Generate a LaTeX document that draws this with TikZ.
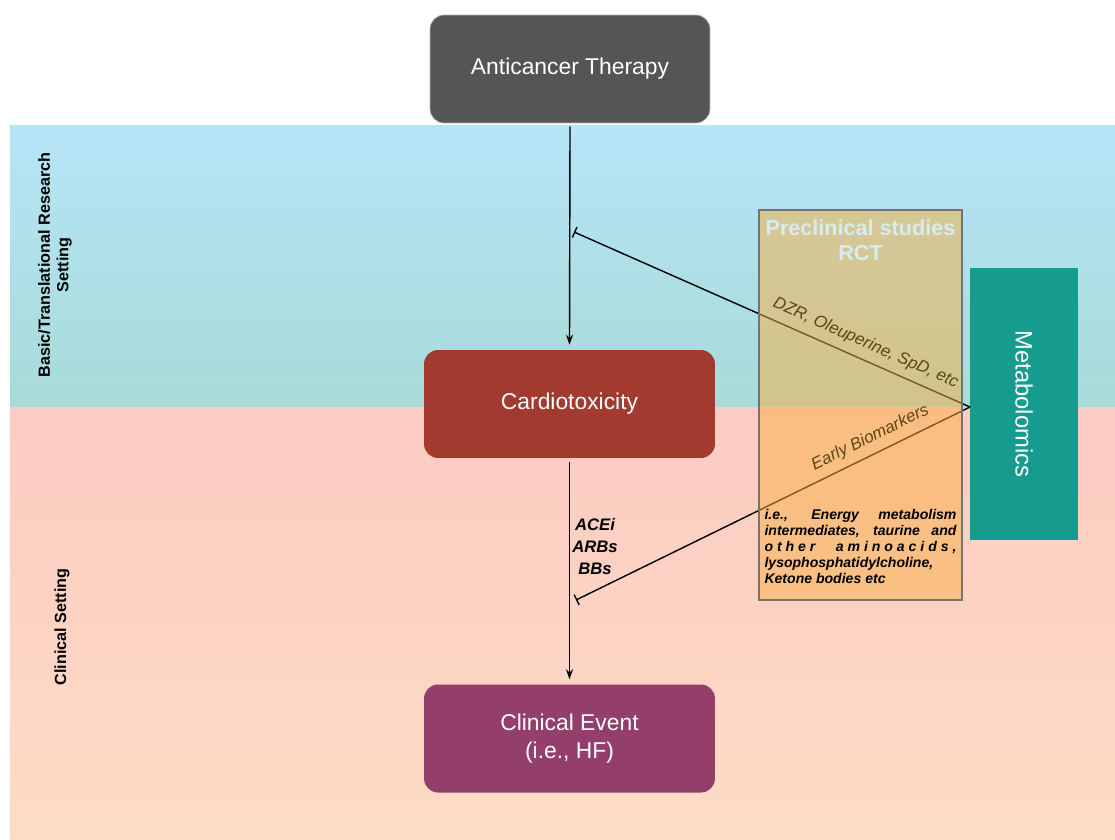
\documentclass[tikz,border=0pt]{standalone}
\usepackage{fontspec}
\setmainfont{Liberation Sans}
\usetikzlibrary{arrows.meta}

\definecolor{bandtop}{RGB}{183,228,247}
\definecolor{bandmid}{RGB}{167,219,216}
\definecolor{pinktop}{RGB}{252,203,195}
\definecolor{pinkbot}{RGB}{253,220,196}
\definecolor{therapygray}{RGB}{85,85,85}
\definecolor{cardiored}{RGB}{163,58,48}
\definecolor{eventplum}{RGB}{148,62,108}
\definecolor{metabteal}{RGB}{22,155,143}
\definecolor{preorange}{RGB}{250,175,66}
\definecolor{pretitle}{RGB}{216,236,240}
\definecolor{labelbrown}{RGB}{92,70,20}

\tikzset{
  stagebox/.style={rounded corners=0.28cm, inner sep=0pt, text=white,
    minimum height=2.16cm, align=center, font=\fontsize{13}{15.5}\selectfont},
  sidelabel/.style={rotate=90, align=center, font=\bfseries\fontsize{9.2}{10.5}\selectfont},
  drug/.style={font=\bfseries\itshape\fontsize{9.5}{11.5}\selectfont},
  slantlabel/.style={sloped, anchor=south, inner sep=4.5pt, text=labelbrown,
    font=\itshape\fontsize{9.6}{11}\selectfont},
  flow/.style={-{Stealth[length=5.7pt,width=4pt]}, line width=0.8pt},
  inhibit/.style={{Bar[width=6.5pt]}-, line width=0.8pt}
}

\begin{document}
\begin{tikzpicture}[x=0.02cm, y=-0.02cm]
  \useasboundingbox (0,0) rectangle (1115,839);
  % settings bands
  \shade[top color=bandtop, bottom color=bandmid] (10,125) rectangle (1115,407);
  \shade[top color=pinktop, bottom color=pinkbot] (10,407) rectangle (1115,839);

  \node[sidelabel] (basic) at (55,265) {Basic/Translational Research\\Setting};
  \node[sidelabel] (clin) at (62,627) {Clinical Setting};

  % main chain
  \node[stagebox, fill=therapygray, draw=gray!60, minimum width=5.6cm] (ther) at (570,69) {Anticancer Therapy};
  \node[stagebox, fill=cardiored, minimum width=5.82cm] (cardio) at (569.5,404) {Cardiotoxicity};
  \node[stagebox, fill=eventplum, minimum width=5.82cm] (event) at (569.5,738.5) {Clinical Event\\(i.e., HF)};
  \node[fill=metabteal, inner sep=0pt, minimum width=2.16cm, minimum height=5.44cm,
    text=white, font=\fontsize{13.5}{16}\selectfont] (metab) at (1024,404)
    {\rotatebox{-90}{Metabolomics}};

  \draw[flow] ([yshift=-1.7pt]ther.south) -- ([yshift=2.8pt]cardio.north);
  \draw[flow] ([yshift=-2.3pt]cardio.south) -- ([yshift=2.8pt]event.north);

  \node[drug] (acei) at (595,525) {ACEi};
  \node[drug] (arbs) at (595,547) {ARBs};
  \node[drug] (bbs) at (595,569) {BBs};

  % metabolomics feedback
  \coordinate (hitA) at (574,232);
  \coordinate (hitB) at (576,600);
  \coordinate (meet) at (970,407);
  \draw[inhibit] (hitA) -- (meet);
  \draw[inhibit] (hitB) -- (meet);

  \node[draw=gray!90!black, line width=1pt, fill=preorange, fill opacity=0.5,
    inner sep=0pt, minimum width=4.06cm, minimum height=7.8cm] (pre) at (860.5,405) {};
  \path (hitA) -- node[slantlabel, pos=0.72] (dzr) {DZR, Oleuperine, SpD, etc} (meet);
  \path (hitB) -- node[slantlabel, pos=0.765] (early) {Early Biomarkers} (meet);
  \node[text=pretitle, align=center, font=\bfseries\fontsize{12.3}{14}\selectfont]
    (pretxt) at (860.5,240) {Preclinical studies\\RCT};
  \node[text width=3.84cm, align=justify, inner sep=0pt,
    font=\bfseries\itshape\fontsize{8}{9.1}\selectfont] (markers) at (860.5,546)
    {\hyphenpenalty=10000\tolerance=10000 i.e., Energy metabolism\linebreak intermediates, taurine and\linebreak {\addfontfeature{LetterSpace=28}other aminoacids,}\linebreak lysophosphatidylcholine,\linebreak Ketone bodies etc};
\end{tikzpicture}
\end{document}
